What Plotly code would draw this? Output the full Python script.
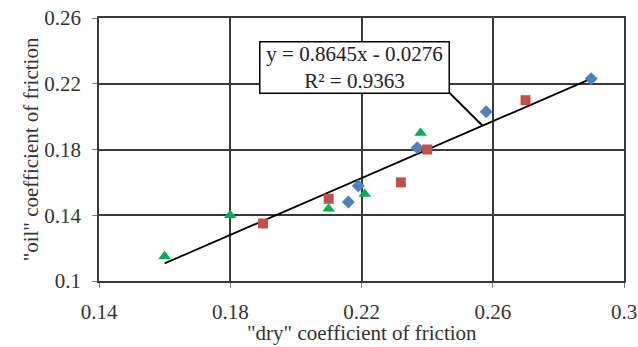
import plotly.graph_objects as go

# Series data ("dry" vs "oil" coefficient of friction)
blue_x = [0.216, 0.219, 0.237, 0.258, 0.290]
blue_y = [0.148, 0.158, 0.181, 0.203, 0.223]
red_x = [0.190, 0.210, 0.232, 0.240, 0.270]
red_y = [0.135, 0.150, 0.160, 0.180, 0.210]
green_x = [0.160, 0.180, 0.210, 0.221, 0.238]
green_y = [0.115, 0.140, 0.144, 0.153, 0.190]

slope = 0.8645
intercept = -0.0276
trend_x = [0.160, 0.290]
trend_y = [slope * v + intercept for v in trend_x]

x_ticks = [0.14, 0.18, 0.22, 0.26, 0.30]
x_tick_text = ["0.14", "0.18", "0.22", "0.26", "0.3"]
y_ticks = [0.10, 0.14, 0.18, 0.22, 0.26]
y_tick_text = ["0.1", "0.14", "0.18", "0.22", "0.26"]

FONT = "'Liberation Serif', 'Times New Roman', Times, serif"
FS = 21

fig = go.Figure()
fig.add_trace(go.Scatter(x=trend_x, y=trend_y, mode="lines",
                         line=dict(color="black", width=1.8), showlegend=False))
fig.add_trace(go.Scatter(x=blue_x, y=blue_y, mode="markers",
                         marker=dict(symbol="diamond", size=10, color="#4F81BD"), showlegend=False))
fig.add_trace(go.Scatter(x=red_x, y=red_y, mode="markers",
                         marker=dict(symbol="square", size=10, color="#C0504D"), showlegend=False))
fig.add_trace(go.Scatter(x=green_x, y=green_y, mode="markers",
                         marker=dict(symbol="triangle-up", size=11, color="#00B050"), showlegend=False))

# leader line from label to trendline
lx = 0.2569
fig.add_shape(type="line", x0=0.2469, y0=0.2143, x1=lx, y1=slope * lx + intercept,
              line=dict(color="black", width=2), layer="above")

fig.add_annotation(x=0.2179, y=0.2296, xref="x", yref="y",
                   text="y = 0.8645x - 0.0276<br>R² = 0.9363",
                   showarrow=False, align="center",
                   font=dict(family=FONT, size=FS, color="#222"),
                   bgcolor="white", bordercolor="black", borderwidth=1.5,
                   borderpad=1, width=186, height=48)

# x-axis title as an annotation below the tick labels
fig.add_annotation(x=0.5, y=0, xref="paper", yref="paper",
                   text='"dry" coefficient of friction', showarrow=False,
                   xanchor="center", yanchor="middle", yshift=-52,
                   borderpad=0,
                   font=dict(family=FONT, size=FS, color="#333"))

axis_common = dict(showgrid=True, gridcolor="#3a3a3a", gridwidth=1.5,
                   showline=True, linecolor="#3a3a3a", linewidth=1.5, mirror=True,
                   ticks="outside", ticklen=5, tickcolor="#808080",
                   zeroline=False, automargin=False,
                   tickfont=dict(family=FONT, size=FS, color="#333"))

fig.update_layout(
    width=638, height=347,
    margin=dict(l=99, r=14, t=18, b=66, autoexpand=False),
    paper_bgcolor="white", plot_bgcolor="white",
    font=dict(family=FONT),
    xaxis=dict(range=[0.14, 0.30], tickvals=x_ticks, ticktext=x_tick_text,
               ticklabelstandoff=6, **axis_common),
    yaxis=dict(range=[0.10, 0.26], tickvals=y_ticks, ticktext=y_tick_text,
               ticklabelstandoff=7,
               title=dict(text='"oil" coefficient of friction', standoff=0,
                          font=dict(family=FONT, size=FS, color="#333")),
               **axis_common),
)

fig.write_html("out.html")
